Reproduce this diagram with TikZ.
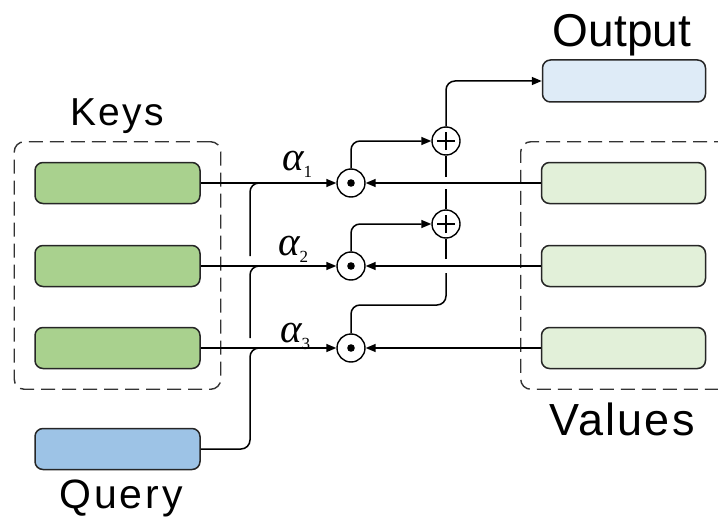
\documentclass[tikz,border=0pt]{standalone}
\usepackage{fontspec}
\setsansfont{Liberation Sans}
\newfontfamily\greekfont{Liberation Serif}
\usetikzlibrary{arrows.meta, fit}

\definecolor{keygreen}{HTML}{A9D18E}
\definecolor{valgreen}{HTML}{E2F0D9}
\definecolor{outblue}{HTML}{DEEBF7}
\definecolor{queryblue}{HTML}{9DC3E6}

% attention weight alpha_i
\newcommand{\weight}[1]{{\greekfont\fontsize{41}{42}\selectfont\itshape α}{\greekfont\fontsize{17}{17}\selectfont\raisebox{-7pt}{#1}}}

\begin{document}
\begin{tikzpicture}[
    x=1pt, y=-1pt,
    font=\sffamily,
    vec/.style={draw=black!85, line width=1.5pt, rounded corners=8pt, minimum width=165pt, minimum height=41pt, inner sep=0pt},
    group/.style={draw=black!80, line width=1.4pt, dash pattern=on 14pt off 7pt, rounded corners=10pt, inner sep=20pt},
    odot/.style={circle, draw, line width=1.4pt, minimum size=28pt, inner sep=0pt, fill=white,
        path picture={\fill[black] (path picture bounding box.center) circle (3.8pt);}},
    oplus/.style={circle, draw, line width=1.4pt, minimum size=28pt, inner sep=0pt, fill=white,
        path picture={\draw[black, line width=1.4pt] (path picture bounding box.center) +(-9pt,0) -- +(9pt,0) +(0,-9pt) -- +(0,9pt);}},
    wire/.style={line width=1.5pt, rounded corners=9pt},
    arrow/.style={wire, -{Triangle[length=10pt, width=8pt]}},
    heading/.style={anchor=base, inner sep=0pt, font=\sffamily\fontsize{#1}{#1}\selectfont}
]
\useasboundingbox (0,0) rectangle (718,519);

% keys, values and the products
\foreach \i/\y in {1/183, 2/266, 3/348} {
    \node[vec, fill=keygreen] (k\i) at (117.5, \y) {};
    \node[vec, fill=valgreen, minimum width=164pt] (v\i) at (623.5, \y) {};
    \node[odot] (od\i) at (351, \y) {};
}
\node[vec, fill=queryblue] (q) at (117.5, 449) {};
\node[vec, fill=outblue, minimum width=163pt, minimum height=42pt] (out) at (624, 81) {};

% sums
\node[oplus] (op1) at (446, 141) {};
\node[oplus] (op2) at (446, 224) {};

% dashed groups
\coordinate (edge) at (760, 266);
\node[group, fit=(k1)(k3)] (keys) {};
\node[group, fit=(v1)(v3)(edge)] (values) {};

% labels
\node[heading=39] (keyslabel) at (117, 125) {\addfontfeature{LetterSpace=6}Keys};
\node[heading=46] (outlabel) at (622, 47) {Output};
\node[heading=45] (vallabel) at (622, 435) {\addfontfeature{LetterSpace=5}Values};
\node[heading=41] (querylabel) at (121, 508) {\addfontfeature{LetterSpace=7}Query};

\node[anchor=base west, inner sep=0pt] (a1) at (282, 170) {\weight{1}};
\node[anchor=base west, inner sep=0pt] (a2) at (278, 255) {\weight{2}};
\node[anchor=base west, inner sep=0pt] (a3) at (280, 342) {\weight{3}};

% key and value lines into the products
\foreach \i in {1,2,3} {
    \draw[arrow] (k\i.east) -- (od\i.west);
    \draw[arrow] (v\i.west) -- (od\i.east);
}

% query joins each key line
\coordinate (qx) at (250, 0);
\draw[wire] (q.east) -| (qx |- k3.east) -- ([xshift=25pt]qx |- k3.east);
\draw[wire] ([yshift=10pt]qx |- k3.east) |- ([xshift=25pt]qx |- k2.east);
\draw[wire] ([yshift=10pt]qx |- k2.east) |- ([xshift=25pt]qx |- k1.east);

% weighted values summed up to the output
\coordinate (sx) at (446, 0);
\coordinate (bend) at (446, 305);
\draw[arrow] (od1.north) |- (op1.west);
\draw[arrow] (od2.north) |- (op2.west);
\draw[wire] (od3.north) |- (bend) -- ([yshift=-7pt]sx |- v2.west);
\draw[wire] ([yshift=7pt]sx |- v2.west) -- (op2.south);
\draw[wire] (op2.north) -- ([yshift=-6pt]sx |- v1.west);
\draw[wire] ([yshift=6pt]sx |- v1.west) -- (op1.south);
\draw[arrow] (op1.north) |- (out.west);

\end{tikzpicture}
\end{document}
